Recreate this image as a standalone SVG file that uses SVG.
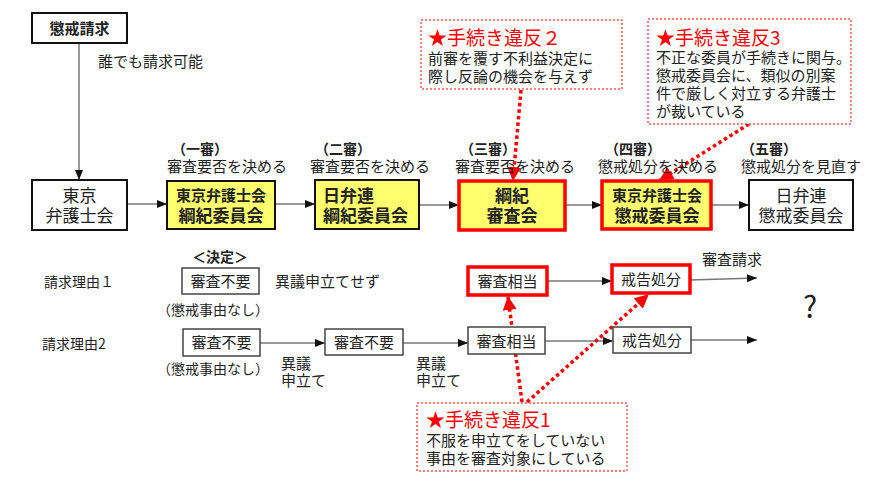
<svg xmlns="http://www.w3.org/2000/svg" width="893" height="498" viewBox="0 0 893 498">
<defs>
<style>
text{font-family:"Noto Sans CJK JP","Liberation Sans",sans-serif;fill:#222}
.t15{font-size:15px}
.t14{font-size:14px}
.t17{font-size:17px}
.b{font-weight:bold}
.m{text-anchor:middle}
.box{fill:#fff;stroke:#111;stroke-width:2}
.ybox{fill:#ffff6e;stroke:#111;stroke-width:2}
.rybox{fill:#ffff6e;stroke:#f00;stroke-width:3.5}
.sbox{fill:#fff;stroke:#444;stroke-width:1.5}
.rbox{fill:#fff;stroke:#f00;stroke-width:3.5}
.call{fill:#fff;stroke:#f00;stroke-width:1;stroke-dasharray:2 2}
.ct{fill:#f00;font-size:19px}
.line{stroke:#777;stroke-width:1.5;fill:none}
.dot{stroke:#f00;stroke-width:3.5;stroke-dasharray:3.5 3;fill:none}
</style>
<marker id="ah" markerUnits="userSpaceOnUse" markerWidth="10" markerHeight="10" viewBox="0 0 10 10" refX="10" refY="5" orient="auto"><path d="M0,1 L10,5 L0,9 Z" fill="#111"/></marker>
<marker id="rah" markerUnits="userSpaceOnUse" markerWidth="14" markerHeight="14" viewBox="0 0 14 14" refX="13" refY="7" orient="auto"><path d="M0,0 L14,7 L0,14 Z" fill="#f00"/></marker>
</defs>

<g id="connectors">
<line class="line" x1="79" y1="43" x2="79" y2="180" marker-end="url(#ah)"/>
<line class="line" x1="127" y1="204" x2="167" y2="204" marker-end="url(#ah)"/>
<line class="line" x1="275" y1="204" x2="315" y2="204" marker-end="url(#ah)"/>
<line class="line" x1="419" y1="205" x2="459" y2="205" marker-end="url(#ah)"/>
<line class="line" x1="565" y1="205" x2="602" y2="205" marker-end="url(#ah)"/>
<line class="line" x1="711" y1="205" x2="749" y2="205" marker-end="url(#ah)"/>
<line class="line" x1="547" y1="281" x2="612" y2="281" marker-end="url(#ah)"/>
<line class="line" x1="690" y1="280" x2="757" y2="278" marker-end="url(#ah)"/>
<line class="line" x1="260" y1="343" x2="325" y2="343" marker-end="url(#ah)"/>
<line class="line" x1="403" y1="343" x2="468" y2="343" marker-end="url(#ah)"/>
<line class="line" x1="545" y1="341" x2="613" y2="341" marker-end="url(#ah)"/>
<line class="line" x1="691" y1="340" x2="757" y2="340" marker-end="url(#ah)"/>
<line class="dot" x1="521" y1="90" x2="513" y2="180" marker-end="url(#rah)"/>
<line class="dot" x1="749" y1="124" x2="660" y2="180" marker-end="url(#rah)"/>
<line class="dot" x1="522" y1="402" x2="508" y2="297" marker-end="url(#rah)"/>
<line class="dot" x1="527" y1="402" x2="648" y2="295" marker-end="url(#rah)"/>
</g>

<g id="n-seikyu">
<rect class="box" x="32" y="13" width="95" height="30"/>
<text class="t15 b m" x="79.5" y="34">懲戒請求</text>
</g>
<text class="t15" x="98" y="67">誰でも請求可能</text>

<g id="n-tokyo">
<rect class="box" x="32" y="180" width="95" height="50"/>
<text class="t17 m" x="79.5" y="202">東京<tspan x="79.5" dy="20">弁護士会</tspan></text>
</g>

<g id="n-1">
<text class="t15" x="167" y="172"><tspan class="t14 b" x="172" y="154">（一審）</tspan><tspan x="167" y="172">審査要否を決める</tspan></text>
<rect class="ybox" x="167" y="181" width="108" height="48"/>
<text class="t15 b m" x="221" y="201">東京弁護士会<tspan class="t17" x="221" y="222">綱紀委員会</tspan></text>
</g>

<g id="n-2">
<text class="t15"><tspan class="t14 b" x="315" y="154">（二審）</tspan><tspan x="310" y="172">審査要否を決める</tspan></text>
<rect class="ybox" x="315" y="180" width="104" height="49"/>
<text class="t17 b" x="323" y="202">日弁連<tspan x="323" y="222">綱紀委員会</tspan></text>
</g>

<g id="n-3">
<text class="t15"><tspan class="t14 b" x="460" y="154">（三審）</tspan><tspan x="455" y="172">審査要否を決める</tspan></text>
<rect class="rybox" x="459" y="181" width="106" height="49"/>
<text class="t17 b m" x="512" y="202">綱紀<tspan x="512" y="222">審査会</tspan></text>
</g>

<g id="n-4">
<text class="t15"><tspan class="t14 b" x="605" y="154">（四審）</tspan><tspan x="598" y="172">懲戒処分を決める</tspan></text>
<rect class="rybox" x="602" y="181" width="109" height="48"/>
<text class="t15 b m" x="657" y="201">東京弁護士会<tspan class="t17" x="657" y="222">懲戒委員会</tspan></text>
</g>

<g id="n-5">
<text class="t15"><tspan class="t14 b" x="741" y="154">（五審）</tspan><tspan x="741" y="172">懲戒処分を見直す</tspan></text>
<rect class="box" x="749" y="180" width="104" height="50"/>
<text class="t17 m" x="801" y="202">日弁連<tspan x="801" y="222">懲戒委員会</tspan></text>
</g>

<g id="c-2">
<rect class="call" x="421" y="20" width="201" height="69"/>
<text class="t15" x="428" y="45"><tspan class="ct">★手続き違反２</tspan><tspan x="428" y="64">前審を覆す不利益決定に</tspan><tspan x="428" y="82">際し反論の機会を与えず</tspan></text>
</g>

<g id="c-3">
<rect class="call" x="648" y="19" width="203" height="105"/>
<text class="t15" x="656" y="45"><tspan class="ct">★手続き違反3</tspan><tspan x="656" y="63">不正な委員が手続きに関与。</tspan><tspan x="656" y="81">懲戒委員会に、類似の別案</tspan><tspan x="656" y="99">件で厳しく対立する弁護士</tspan><tspan x="656" y="117">が裁いている</tspan></text>
</g>

<g id="row1">
<text class="t14 b m" x="220" y="262">＜決定＞</text>
<text class="t14" x="44" y="287">請求理由１</text>
<g id="r1-fuyo">
<rect class="sbox" x="182" y="268" width="77" height="26"/>
<text class="t15 m" x="220.5" y="287">審査不要</text>
</g>
<text class="t15" x="275" y="287">異議申立てせず</text>
<text class="t14" x="157" y="315">（懲戒事由なし）</text>
<g id="r1-soto">
<rect class="rbox" x="468" y="267" width="79" height="28"/>
<text class="t15 m" x="507.5" y="287">審査相当</text>
</g>
<g id="r1-kaikoku">
<rect class="rbox" x="612" y="265" width="78" height="28"/>
<text class="t15 m" x="651" y="285">戒告処分</text>
</g>
<text class="t15" x="702" y="265">審査請求</text>
<text x="810" y="318" style="font-size:30px" class="m">?</text>
</g>

<g id="row2">
<text class="t14" x="42" y="349">請求理由2</text>
<g id="r2-fuyo1">
<rect class="sbox" x="183" y="329" width="77" height="27"/>
<text class="t15 m" x="221.5" y="348">審査不要</text>
</g>
<text class="t14" x="157" y="374">（懲戒事由なし）</text>
<text class="t15" x="281" y="369">異議<tspan x="281" y="386">申立て</tspan></text>
<g id="r2-fuyo2">
<rect class="sbox" x="325" y="329" width="78" height="26"/>
<text class="t15 m" x="364" y="348">審査不要</text>
</g>
<text class="t15" x="416" y="369">異議<tspan x="416" y="386">申立て</tspan></text>
<g id="r2-soto">
<rect class="sbox" x="468" y="327" width="77" height="27"/>
<text class="t15 m" x="506.5" y="347">審査相当</text>
</g>
<g id="r2-kaikoku">
<rect class="sbox" x="613" y="327" width="78" height="26"/>
<text class="t15 m" x="652" y="346">戒告処分</text>
</g>
</g>

<g id="c-1">
<rect class="call" x="417" y="403" width="210" height="68"/>
<text class="t15" x="426" y="427"><tspan class="ct">★手続き違反1</tspan><tspan x="426" y="446">不服を申立てをしていない</tspan><tspan x="426" y="464">事由を審査対象にしている</tspan></text>
</g>
</svg>
